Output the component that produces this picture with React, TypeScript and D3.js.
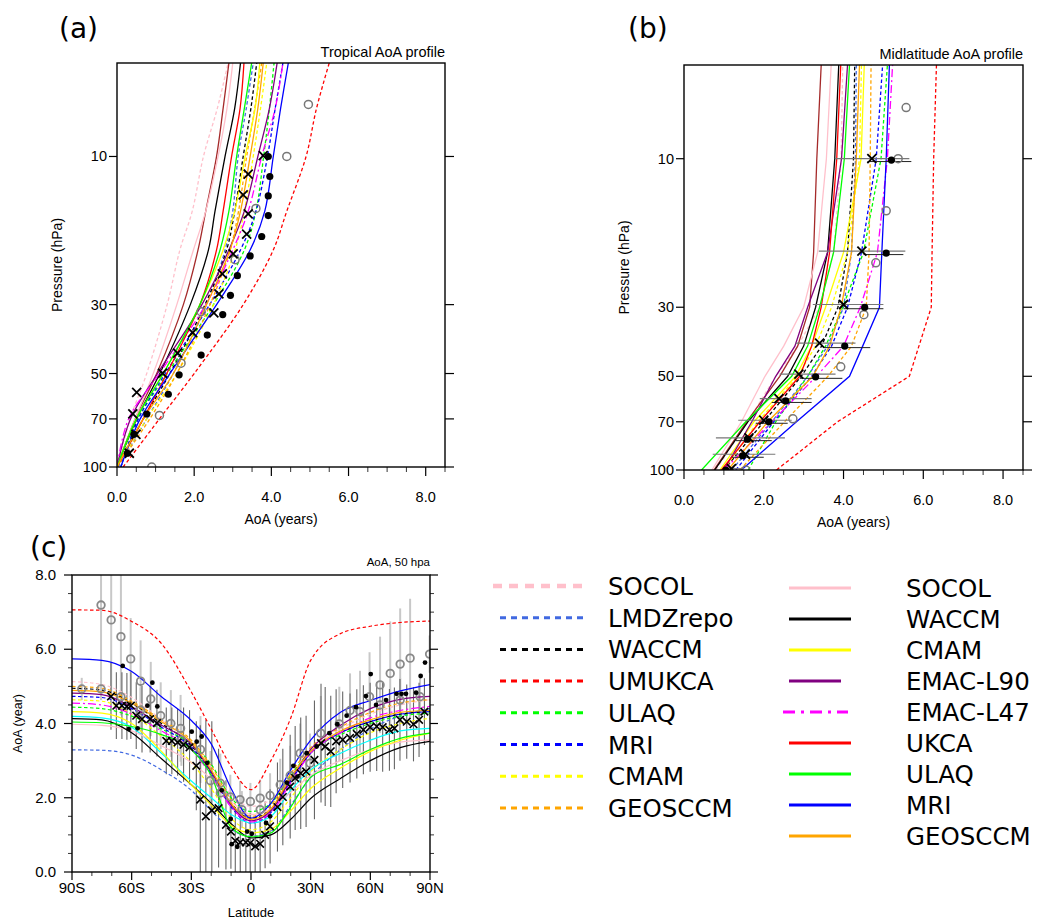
import React from "react";
import * as d3 from "d3";

// ---------------- Model definitions (legend) ----------------
const dashedNames = ["SOCOL", "LMDZrepo", "WACCM", "UMUKCA", "ULAQ", "MRI", "CMAM", "GEOSCCM"];
const dashedColors = ["#ffc0cb", "#4169e1", "#000000", "#ff0000", "#00ff00", "#0000ff", "#ffff00", "#ffa500"];
const solidNames = ["SOCOL", "WACCM", "CMAM", "EMAC-L90", "EMAC-L47", "UKCA", "ULAQ", "MRI", "GEOSCCM"];
const solidColors = ["#ffc0cb", "#000000", "#ffff00", "#800080", "#ff00ff", "#ff0000", "#00ff00", "#0000ff", "#ffa500"];

// ---------------- Panel (a): tropical profile ----------------
const tropLevels = [100, 70, 50, 30, 20, 15, 10, 7, 5];
const tropSocolD = [0, 0.34, 0.77, 1.3, 1.63, 1.95, 2.24, 2.6, 2.88];
const tropLmdzD = [0.03, 0.77, 1.46, 2.32, 2.8, 3.0, 3.14, 3.35, 3.53];
const tropWaccmD = [0, 0.68, 1.37, 2.28, 2.84, 3.05, 3.27, 3.47, 3.62];
const tropUmukcaD = [0.16, 1.1, 2.0, 3.27, 4.05, 4.4, 4.9, 5.17, 5.5];
const tropUlaqD = [0.1, 0.55, 1.3, 2.5, 3.3, 3.6, 3.8, 3.95, 4.07];
const tropMriD = [0.1, 0.55, 1.25, 2.4, 3.2, 3.6, 3.9, 4.1, 4.3];
const tropCmamD = [0, 0.77, 1.55, 2.5, 3.06, 3.3, 3.53, 3.72, 3.88];
const tropGeosD = [0, 0.85, 1.55, 2.41, 2.93, 3.15, 3.36, 3.57, 3.75];
const tropSocolS = [0, 0.47, 0.94, 1.55, 1.98, 2.3, 2.62, 2.85, 3.0];
const tropWaccmS = [0, 0.51, 1.11, 1.9, 2.37, 2.54, 2.8, 3.05, 3.2];
const tropCmamS = [0, 0.5, 1.2, 2.15, 2.75, 3.05, 3.32, 3.58, 3.7];
const tropEmac90 = [0, 0.35, 1.05, 2.2, 2.9, 3.3, 3.65, 3.95, 4.15];
const tropEmac47 = [0, 0.3, 1.1, 2.3, 3.0, 3.4, 3.75, 4.1, 4.3];
const tropUkca = [0, 0.68, 1.29, 2.15, 2.58, 2.75, 2.97, 3.19, 3.29];
const tropUlaqS = [0, 0.5, 1.2, 2.15, 2.67, 2.9, 3.1, 3.3, 3.49];
const tropMriS = [0.1, 0.6, 1.37, 2.58, 3.45, 3.83, 4.05, 4.24, 4.44];
const tropGeosS = [0, 0.68, 1.46, 2.32, 2.93, 3.2, 3.45, 3.65, 3.79];
const tropBrown = [0, 0.47, 1.03, 1.72, 2.1, 2.3, 2.58, 2.75, 2.9];

const tropCrossP = [9.93, 11.4, 13.3, 15.3, 17.8, 20.6, 23.9, 27.7, 31.9, 36.9, 43.0, 49.9, 57.5, 67.4, 78.5, 90.3];
const tropCrossV = [3.79, 3.4, 3.27, 3.4, 3.36, 3.01, 2.73, 2.64, 2.51, 1.96, 1.57, 1.18, 0.51, 0.41, 0.49, 0.32];
const tropDotP = [10.0, 11.6, 13.4, 15.5, 18.1, 20.9, 24.2, 28.0, 32.3, 37.6, 43.6, 50.5, 58.3, 67.5, 78.5, 90.3];
const tropDotV = [3.92, 3.96, 3.92, 3.92, 3.75, 3.45, 3.12, 2.94, 2.74, 2.34, 2.18, 1.61, 1.33, 0.77, 0.44, 0.27];
const tropCircP = [6.8, 10, 14.7, 21.5, 31.6, 46.3, 68.2, 100];
const tropCircV = [4.96, 4.4, 3.6, 3.06, 2.18, 1.66, 1.1, 0.9];

// ---------------- Panel (b): midlatitude profile ----------------
const midLevels = [100, 70, 50, 40, 30, 20, 10, 5];
const midSocolD = [0.8, 1.6, 2.3, 2.85, 3.4, 3.75, 3.94, 3.98];
const midLmdzD = [1.2, 2.2, 3.1, 3.6, 4.0, 4.2, 4.3, 4.32];
const midWaccmD = [1.0, 2.0, 2.94, 3.45, 3.86, 4.1, 4.25, 4.28];
const midUmukcaD = [2.32, 3.85, 5.65, 5.89, 6.2, 6.22, 6.26, 6.33];
const midUlaqD = [1.61, 2.3, 3.1, 3.55, 3.98, 4.5, 4.94, 5.1];
const midMriD = [1.3, 2.25, 3.2, 3.7, 4.1, 4.45, 4.82, 4.98];
const midCmamD = [1.0, 1.85, 2.85, 3.3, 3.7, 4.1, 4.4, 4.45];
const midGeosD = [1.4, 2.52, 3.61, 4.2, 4.57, 4.64, 4.67, 4.69];
const midSocolS = [0.7, 1.44, 2.03, 2.5, 3.0, 3.35, 3.57, 3.69];
const midWaccmS = [0.77, 1.6, 2.6, 3.0, 3.3, 3.6, 3.78, 3.88];
const midCmamS = [0.9, 1.75, 2.8, 3.2, 3.55, 4.0, 4.44, 4.52];
const midEmac90 = [1.0, 1.7, 2.3, 2.78, 3.1, 3.6, 3.95, 4.1];
const midEmac47 = [1.0, 2.2, 3.32, 4.0, 4.42, 4.85, 5.1, 5.23];
const midUkca = [0.94, 1.9, 2.9, 3.2, 3.44, 3.65, 3.83, 3.93];
const midUlaqS = [0.44, 1.55, 2.7, 3.1, 3.4, 3.75, 4.02, 4.15];
const midMriS = [1.44, 2.82, 4.15, 4.48, 4.9, 4.96, 5.07, 5.15];
const midGeosS = [1.1, 2.1, 3.23, 3.65, 3.94, 4.2, 4.32, 4.4];
const midBrown = [0.75, 1.57, 2.4, 2.85, 3.15, 3.25, 3.33, 3.44];

const midCrossP = [10, 19.8, 29.4, 39.1, 49.2, 59, 69.2, 78.9, 89, 99];
const midCrossV = [4.71, 4.46, 4.0, 3.4, 2.88, 2.38, 2.0, 1.63, 1.54, 1.19];
const midCrossLo = [3.78, 3.38, 3.23, 2.8, 2.4, 1.9, 1.36, 0.8, 0.72, 0.98];
const midCrossHi = [5.65, 5.55, 5.0, 4.3, 3.8, 3.2, 2.7, 2.53, 2.29, 1.5];
const midDotP = [10.1, 20.1, 30, 40, 50.2, 60, 70, 79.6, 90, 100];
const midDotV = [5.2, 5.07, 4.53, 4.03, 3.3, 2.55, 2.13, 1.59, 1.47, 1.05];
const midDotLo = [4.6, 4.5, 4.0, 3.5, 2.9, 2.2, 1.8, 1.3, 1.2, 0.9];
const midDotHi = [5.7, 5.5, 5.0, 4.67, 3.97, 3.2, 2.6, 2.2, 2.0, 1.3];
const midCircP = [6.85, 10, 14.7, 21.6, 31.7, 46.6, 68.5, 100];
const midCircV = [5.57, 5.37, 5.07, 4.81, 4.51, 3.93, 2.73, 1.55];

// ---------------- Panel (c): AoA at 50 hPa vs latitude ----------------
const latGrid = [-90, -75, -60, -45, -30, -20, -10, 0, 10, 20, 30, 45, 60, 75, 90];
const latSocolD = [5.13, 5.05, 4.7, 4.1, 3.45, 2.85, 2.1, 1.77, 1.95, 2.6, 3.3, 3.85, 4.25, 4.5, 4.64];
const latLmdzD = [3.29, 3.28, 3.15, 2.75, 2.2, 1.65, 1.15, 0.96, 1.1, 1.8, 2.55, 3.3, 3.85, 4.2, 4.4];
const latWaccmD = [4.95, 4.9, 4.55, 4.0, 3.4, 2.7, 1.85, 1.45, 1.7, 2.5, 3.2, 3.75, 4.05, 4.25, 4.32];
const latUmukcaD = [7.06, 7.05, 6.75, 6.15, 4.85, 3.85, 2.84, 2.22, 3.0, 4.15, 5.7, 6.42, 6.62, 6.72, 6.76];
const latUlaqD = [4.44, 4.4, 4.2, 3.85, 3.45, 2.9, 2.0, 1.63, 1.85, 2.6, 3.25, 3.7, 4.0, 4.2, 4.28];
const latMriD = [4.73, 4.7, 4.4, 3.9, 3.35, 2.65, 1.75, 1.32, 1.6, 2.45, 3.2, 3.75, 4.05, 4.25, 4.32];
const latCmamD = [4.64, 4.6, 4.25, 3.65, 2.95, 2.25, 1.45, 1.14, 1.35, 2.0, 2.7, 3.3, 3.75, 4.0, 4.14];
const latGeosD = [5.0, 4.95, 4.6, 4.1, 3.55, 2.85, 1.95, 1.5, 1.8, 2.65, 3.35, 3.9, 4.3, 4.55, 4.64];
const latSocolS = [3.98, 3.95, 3.8, 3.4, 2.95, 2.5, 1.9, 1.55, 1.7, 2.15, 2.6, 3.0, 3.3, 3.5, 3.55];
const latWaccmS = [4.13, 4.1, 3.75, 3.05, 2.35, 1.85, 1.3, 0.92, 1.0, 1.42, 1.98, 2.52, 3.0, 3.35, 3.52];
const latCmamS = [4.32, 4.28, 4.0, 3.25, 2.35, 1.8, 1.25, 1.05, 1.15, 1.65, 2.25, 2.8, 3.25, 3.55, 3.74];
const latEmac90 = [4.82, 4.78, 4.45, 3.95, 3.45, 2.7, 1.8, 1.38, 1.65, 2.5, 3.3, 3.95, 4.4, 4.65, 4.73];
const latEmac47 = [4.55, 4.5, 4.25, 3.8, 3.3, 2.6, 1.75, 1.35, 1.6, 2.4, 3.2, 3.75, 4.15, 4.35, 4.46];
const latUlaqS = [4.04, 4.02, 3.92, 3.7, 3.3, 2.6, 1.2, 0.95, 1.05, 1.75, 2.55, 2.9, 3.3, 3.6, 3.74];
const latMriS = [5.74, 5.7, 5.4, 4.72, 4.08, 3.45, 2.25, 1.45, 1.85, 2.75, 3.55, 4.3, 4.62, 4.88, 5.05];
const latGeosS = [4.89, 4.85, 4.55, 4.05, 3.5, 2.75, 1.85, 1.42, 1.7, 2.55, 3.25, 3.8, 4.1, 4.3, 4.35];
const latCyan = [4.19, 4.15, 3.9, 3.2, 2.45, 2.0, 1.55, 1.32, 1.5, 2.2, 2.75, 3.2, 3.55, 3.8, 3.87];

const circLat = [-85.1, -75.4, -75.4, -70.3, -65.4, -65.4, -60.5, -55.5, -55.5, -50.4, -45.4, -40.3, -35.4, -35.0, -25.4, -20.4, -15.4, -15.4, -10.4, -5.5, -4.6, -0.3, 4.6, 4.6, 9.6, 14.7, 19.7, 24.7, 29.7, 35.1, 44.4, 49.8, 54.8, 59.6, 64.9, 64.9, 70.0, 75.0, 75.0, 80.0, 85.0, 89.8];
const circVal = [4.93, 7.19, 4.93, 6.79, 6.34, 4.72, 5.74, 5.14, 4.36, 4.66, 4.21, 4.0, 3.87, 3.56, 3.3, 2.46, 2.39, 2.13, 2.02, 1.95, 1.68, 1.9, 1.99, 1.68, 2.06, 2.35, 2.6, 3.2, 2.93, 3.74, 3.99, 4.35, 4.32, 4.72, 5.04, 4.5, 5.35, 5.6, 4.63, 5.76, 4.72, 5.87];
const circErr = [0.3, 2.0, 0.3, 2.0, 1.8, 0.5, 1.1, 1.1, 0.6, 1.0, 0.9, 0.9, 0.9, 0.7, 0.9, 0.8, 0.8, 0.6, 0.6, 0.5, 0.5, 0.5, 0.5, 0.5, 0.6, 0.7, 0.8, 0.8, 0.8, 1.0, 1.0, 1.0, 1.1, 1.2, 1.3, 0.6, 1.4, 1.5, 0.6, 1.6, 0.5, 0.5];
const dotLat = [-64.5, -61.5, -57.0, -52.1, -49.6, -47.1, -29.8, -27.3, -24.8, -22.0, -14.7, -10.2, -9.7, -6.9, -1.9, 0.4, 7.6, 9.6, 18.0, 21.3, 23.4, 28.0, 33.0, 39.4, 43.4, 48.1, 52.8, 57.8, 60.2, 62.9, 67.9, 73.2, 75.7, 77.9, 83.0, 85.3, 87.5];
const dotVal = [5.55, 3.85, 3.87, 4.48, 5.1, 4.46, 3.78, 3.51, 3.65, 2.94, 2.2, 1.43, 0.75, 0.68, 1.09, 1.03, 1.32, 1.5, 2.41, 2.86, 2.57, 3.2, 3.38, 3.74, 3.98, 4.21, 4.44, 4.74, 5.33, 4.5, 4.63, 4.8, 4.8, 4.8, 4.83, 5.28, 5.64];
const crossLat = [-70.4, -67.7, -64.9, -62.4, -60.4, -57.7, -54.8, -50.7, -47.3, -42.6, -39.8, -36.9, -33.9, -30.9, -27.5, -25.5, -22.7, -19.7, -16.3, -12.6, -10.1, -7.9, -5.4, -2.6, -0.4, 2.1, 4.6, 7.1, 9.6, 13.3, 16.0, 19.7, 22.2, 25.0, 27.7, 31.9, 35.2, 37.3, 40.1, 42.8, 46.1, 49.8, 53.2, 56.5, 59.9, 63.2, 66.2, 69.6, 72.1, 74.9, 78.3, 81.7, 84.5, 87.2];
const crossVal = [4.73, 4.48, 4.48, 4.46, 4.48, 4.21, 4.12, 4.12, 4.01, 3.53, 3.53, 3.49, 3.43, 3.36, 2.86, 1.95, 1.5, 1.66, 1.72, 1.27, 1.09, 0.84, 0.8, 0.8, 0.78, 0.69, 0.76, 1.0, 1.23, 1.75, 2.02, 2.3, 2.53, 2.66, 2.71, 3.02, 3.47, 3.38, 3.25, 3.52, 3.56, 3.61, 3.72, 3.83, 3.9, 3.92, 3.9, 3.83, 3.87, 4.1, 4.05, 3.98, 4.1, 4.32];
const crossErr = [0.9, 0.9, 0.9, 0.9, 0.9, 0.9, 0.9, 0.9, 0.9, 0.9, 0.9, 0.9, 1.0, 1.0, 1.2, 2.0, 2.6, 2.4, 1.6, 1.2, 1.0, 0.9, 0.9, 0.8, 0.8, 0.8, 0.8, 0.9, 1.0, 1.2, 1.3, 1.4, 1.4, 1.5, 1.5, 1.6, 1.6, 1.6, 1.5, 1.4, 1.3, 1.2, 1.2, 1.2, 1.2, 1.2, 1.2, 1.1, 1.1, 1.1, 1.0, 1.0, 1.0, 0.9];

const profileXTicks = [0, 2, 4, 6, 8];
const profileYTicks = [10, 30, 50, 70, 100];
const latTicks = [-90, -60, -30, 0, 30, 60, 90];
const latTickLabels = ["90S", "60S", "30S", "0", "30N", "60N", "90N"];
const aoaTicks = [0, 2, 4, 6, 8];

// ---------------- styles ----------------
const NCL = "'Liberation Sans', Arial, Helvetica, sans-serif";
const MPL = "'DejaVu Sans', sans-serif";
const DASH = "3.5 2.5";
const DASHDOT = "8 3 2 3";

type Pt = [number, number];
type Series = { color: string; dash?: string; values: number[] | null };

function buildSeries(dashedVals: (number[] | null)[], solidVals: (number[] | null)[], extra: Series[]): Series[] {
  const d: Series[] = dashedVals.map((v, i) => ({ color: dashedColors[i], dash: DASH, values: v }));
  const s: Series[] = solidVals.map((v, i) => ({
    color: solidColors[i],
    dash: solidNames[i] === "EMAC-L47" ? DASHDOT : undefined,
    values: v,
  }));
  return [...d, ...extra, ...s];
}

const Cross = ({ cx, cy, r = 4.5, w = 1.8 }: { cx: number; cy: number; r?: number; w?: number }) => (
  <path d={`M${cx - r},${cy - r}L${cx + r},${cy + r}M${cx - r},${cy + r}L${cx + r},${cy - r}`} stroke="#000" strokeWidth={w} fill="none" />
);

function ProfilePanel(props: {
  id: string; left: number; right: number; top: number; bottom: number;
  levels: number[]; series: Series[]; curve: any;
  crossP: number[]; crossV: number[]; dotP: number[]; dotV: number[]; circP: number[]; circV: number[];
  crossLo?: number[]; crossHi?: number[]; dotLo?: number[]; dotHi?: number[];
  title: string; tag: string; tagX: number;
}) {
  const { id, left, right, top, bottom, levels, series, curve } = props;
  const x = d3.scaleLinear().domain([0, 8.5]).range([left, right]);
  const y = d3.scaleLog().domain([100, 5]).range([bottom, top]);
  const line = d3.line<Pt>().x((d) => x(d[0])).y((d) => y(d[1])).curve(curve);
  const minorX = d3.range(0.5, 8.51, 0.5).filter((v) => v % 2 !== 0);
  return (
    <g>
      <defs>
        <clipPath id={id}>
          <rect x={left} y={top} width={right - left} height={bottom - top} />
        </clipPath>
      </defs>
      <g clipPath={`url(#${id})`}>
        {series.map((s, i) =>
          s.values ? (
            <path key={i} d={line(s.values.map((v, j) => [v, levels[j]] as Pt)) || ""} fill="none"
              stroke={s.color} strokeWidth={1.3} strokeDasharray={s.dash} />
          ) : null
        )}
        {props.crossLo && props.crossHi && props.crossP.map((p, i) => (
          <line key={"cb" + i} x1={x(props.crossLo![i])} x2={x(props.crossHi![i])} y1={y(p)} y2={y(p)} stroke="#777" strokeWidth={1.2} />
        ))}
        {props.dotLo && props.dotHi && props.dotP.map((p, i) => (
          <line key={"db" + i} x1={x(props.dotLo![i])} x2={x(props.dotHi![i])} y1={y(p) + 1.5} y2={y(p) + 1.5} stroke="#222" strokeWidth={1} />
        ))}
        {props.circP.map((p, i) => (
          <circle key={"c" + i} cx={x(props.circV[i])} cy={y(p)} r={4} fill="none" stroke="#777" strokeWidth={1.5} />
        ))}
        {props.dotP.map((p, i) => (
          <circle key={"d" + i} cx={x(props.dotV[i])} cy={y(p)} r={3.6} fill="#000" />
        ))}
        {props.crossP.map((p, i) => (
          <Cross key={"x" + i} cx={x(props.crossV[i])} cy={y(p)} />
        ))}
      </g>
      <rect x={left} y={top} width={right - left} height={bottom - top} fill="none" stroke="#000" strokeWidth={1.4} />
      {profileXTicks.map((t) => (
        <g key={"xt" + t}>
          <line x1={x(t)} x2={x(t)} y1={bottom} y2={bottom + 9} stroke="#000" strokeWidth={1.2} />
          <text x={x(t)} y={bottom + 35} textAnchor="middle" fontSize={14.5} fontFamily={NCL}>{t.toFixed(1)}</text>
        </g>
      ))}
      {minorX.map((t) => (
        <line key={"xm" + t} x1={x(t)} x2={x(t)} y1={bottom} y2={bottom + 5} stroke="#000" strokeWidth={0.8} />
      ))}
      {profileYTicks.map((t) => (
        <g key={"yt" + t}>
          <line x1={left - 8} x2={left} y1={y(t)} y2={y(t)} stroke="#000" strokeWidth={1.2} />
          <line x1={right} x2={right + 9} y1={y(t)} y2={y(t)} stroke="#000" strokeWidth={1.2} />
          <text x={left - 10} y={y(t) + 5} textAnchor="end" fontSize={14.5} fontFamily={NCL}>{t}</text>
        </g>
      ))}
      <text x={(left + right) / 2} y={bottom + 57} textAnchor="middle" fontSize={14} fontFamily={NCL}>AoA (years)</text>
      <text transform={`translate(${left - 55},${(top + bottom) / 2}) rotate(-90)`} textAnchor="middle" fontSize={14} fontFamily={NCL}>Pressure (hPa)</text>
      <text x={right} y={top - 6} textAnchor="end" fontSize={14.5} fontFamily={NCL}>{props.title}</text>
      <text x={props.tagX} y={38} fontSize={28} fontFamily={MPL}>{props.tag}</text>
    </g>
  );
}

function LatPanel() {
  const left = 72, right = 430, top = 575, bottom = 872;
  const x = d3.scaleLinear().domain([-90, 90]).range([left, right]);
  const y = d3.scaleLinear().domain([0, 8]).range([bottom, top]);
  const line = d3.line<Pt>().x((d) => x(d[0])).y((d) => y(d[1])).curve(d3.curveMonotoneX);
  const series = buildSeries(
    [latSocolD, latLmdzD, latWaccmD, latUmukcaD, latUlaqD, latMriD, latCmamD, latGeosD],
    [latSocolS, latWaccmS, latCmamS, latEmac90, latEmac47, null, latUlaqS, latMriS, latGeosS],
    [{ color: "#00ffff", values: latCyan }]
  );
  const minorX = d3.range(-80, 81, 10).filter((v) => v % 30 !== 0);
  const minorY = d3.range(0.5, 8, 0.5).filter((v) => v % 2 !== 0);
  return (
    <g>
      <defs>
        <clipPath id="clipC">
          <rect x={left} y={top} width={right - left} height={bottom - top} />
        </clipPath>
      </defs>
      <g clipPath="url(#clipC)">
        {circLat.map((la, i) => (
          <line key={"cb" + i} x1={x(la)} x2={x(la)} y1={y(circVal[i] - circErr[i])} y2={y(circVal[i] + circErr[i])} stroke="#c8c8c8" strokeWidth={2} />
        ))}
        {crossLat.map((la, i) => (
          <line key={"xb" + i} x1={x(la)} x2={x(la)} y1={y(crossVal[i] - crossErr[i])} y2={y(crossVal[i] + crossErr[i])} stroke="#666" strokeWidth={1.1} />
        ))}
        {series.map((s, i) =>
          s.values ? (
            <path key={i} d={line(s.values.map((v, j) => [latGrid[j], v] as Pt)) || ""} fill="none"
              stroke={s.color} strokeWidth={1.2} strokeDasharray={s.dash} />
          ) : null
        )}
        {circLat.map((la, i) => (
          <circle key={"c" + i} cx={x(la)} cy={y(circVal[i])} r={3.8} fill="none" stroke="#888" strokeWidth={1.8} />
        ))}
        {dotLat.map((la, i) => (
          <circle key={"d" + i} cx={x(la)} cy={y(dotVal[i])} r={2.4} fill="#000" />
        ))}
        {crossLat.map((la, i) => (
          <Cross key={"x" + i} cx={x(la)} cy={y(crossVal[i])} r={3.8} w={1.6} />
        ))}
      </g>
      <rect x={left} y={top} width={right - left} height={bottom - top} fill="none" stroke="#000" strokeWidth={1.4} />
      {latTicks.map((t, i) => (
        <g key={"lt" + t}>
          <line x1={x(t)} x2={x(t)} y1={bottom} y2={bottom + 8} stroke="#000" strokeWidth={1.2} />
          <text x={x(t)} y={bottom + 21} textAnchor="middle" fontSize={15} fontFamily={NCL}>{latTickLabels[i]}</text>
        </g>
      ))}
      {minorX.map((t) => (
        <line key={"lm" + t} x1={x(t)} x2={x(t)} y1={bottom} y2={bottom + 4} stroke="#000" strokeWidth={0.8} />
      ))}
      {aoaTicks.map((t) => (
        <g key={"at" + t}>
          <line x1={left - 8} x2={left} y1={y(t)} y2={y(t)} stroke="#000" strokeWidth={1.2} />
          <line x1={right} x2={right + 8} y1={y(t)} y2={y(t)} stroke="#000" strokeWidth={1.2} />
          <text x={left - 16} y={y(t) + 5} textAnchor="end" fontSize={15} fontFamily={NCL}>{t.toFixed(1)}</text>
        </g>
      ))}
      {minorY.map((t) => (
        <g key={"am" + t}>
          <line x1={left - 4} x2={left} y1={y(t)} y2={y(t)} stroke="#000" strokeWidth={0.8} />
          <line x1={right} x2={right + 4} y1={y(t)} y2={y(t)} stroke="#000" strokeWidth={0.8} />
        </g>
      ))}
      <text x={(left + right) / 2} y={917} textAnchor="middle" fontSize={13} fontFamily={NCL}>Latitude</text>
      <text transform={`translate(22,${(top + bottom) / 2}) rotate(-90)`} textAnchor="middle" fontSize={12.5} fontFamily={NCL}>AoA (year)</text>
      <text x={right} y={566} textAnchor="end" fontSize={11.5} fontFamily={NCL}>AoA, 50 hpa</text>
      <text x={30} y={557} fontSize={28} fontFamily={MPL}>(c)</text>
    </g>
  );
}

function Legend() {
  const leftX1 = 500, leftX2 = 587, rightX1 = 789, rightX2 = 851;
  return (
    <g fontFamily={MPL} fontSize={24.5}>
      {dashedNames.map((n, i) => {
        const yy = 586 + i * 31.7;
        const isSocol = n === "SOCOL";
        return (
          <g key={"ld" + i}>
            <line x1={isSocol ? 493 : leftX1} x2={leftX2} y1={yy} y2={yy} stroke={dashedColors[i]}
              strokeWidth={isSocol ? 4.5 : 3} strokeDasharray={isSocol ? "9 7" : "6 5"} />
            <text x={608} y={yy + 9}>{n}</text>
          </g>
        );
      })}
      {solidNames.map((n, i) => {
        const yy = 588 + i * 31;
        const isL47 = n === "EMAC-L47";
        const isL90 = n === "EMAC-L90";
        return (
          <g key={"ls" + i}>
            <line x1={isL47 ? 783 : rightX1} x2={isL90 ? 841 : isL47 ? 848 : rightX2} y1={yy} y2={yy} stroke={solidColors[i]}
              strokeWidth={3} strokeDasharray={isL47 ? "12 6 3 6" : undefined} />
            <text x={906} y={yy + 9}>{n}</text>
          </g>
        );
      })}
    </g>
  );
}

export default function App() {
  const seriesA = buildSeries(
    [tropSocolD, tropLmdzD, tropWaccmD, tropUmukcaD, tropUlaqD, tropMriD, tropCmamD, tropGeosD],
    [tropSocolS, tropWaccmS, tropCmamS, tropEmac90, tropEmac47, tropUkca, tropUlaqS, tropMriS, tropGeosS],
    [{ color: "#a52a2a", values: tropBrown }]
  );
  const seriesB = buildSeries(
    [midSocolD, midLmdzD, midWaccmD, midUmukcaD, midUlaqD, midMriD, midCmamD, midGeosD],
    [midSocolS, midWaccmS, midCmamS, midEmac90, midEmac47, midUkca, midUlaqS, midMriS, midGeosS],
    [{ color: "#a52a2a", values: midBrown }]
  );
  return (
    <svg width={1037} height={920} style={{ position: "absolute", left: 0, top: 0, background: "#fff" }}>
      <rect x={0} y={0} width={1037} height={920} fill="#fff" />
      <ProfilePanel id="clipA" left={117} right={445} top={63} bottom={467} levels={tropLevels} series={seriesA}
        curve={d3.curveCatmullRom.alpha(0.5)}
        crossP={tropCrossP} crossV={tropCrossV} dotP={tropDotP} dotV={tropDotV} circP={tropCircP} circV={tropCircV}
        title="Tropical AoA profile" tag="(a)" tagX={59} />
      <ProfilePanel id="clipB" left={684} right={1023} top={65} bottom={470} levels={midLevels} series={seriesB}
        curve={d3.curveLinear}
        crossP={midCrossP} crossV={midCrossV} dotP={midDotP} dotV={midDotV} circP={midCircP} circV={midCircV}
        crossLo={midCrossLo} crossHi={midCrossHi} dotLo={midDotLo} dotHi={midDotHi}
        title="Midlatitude AoA profile" tag="(b)" tagX={628} />
      <LatPanel />
      <Legend />
    </svg>
  );
}
